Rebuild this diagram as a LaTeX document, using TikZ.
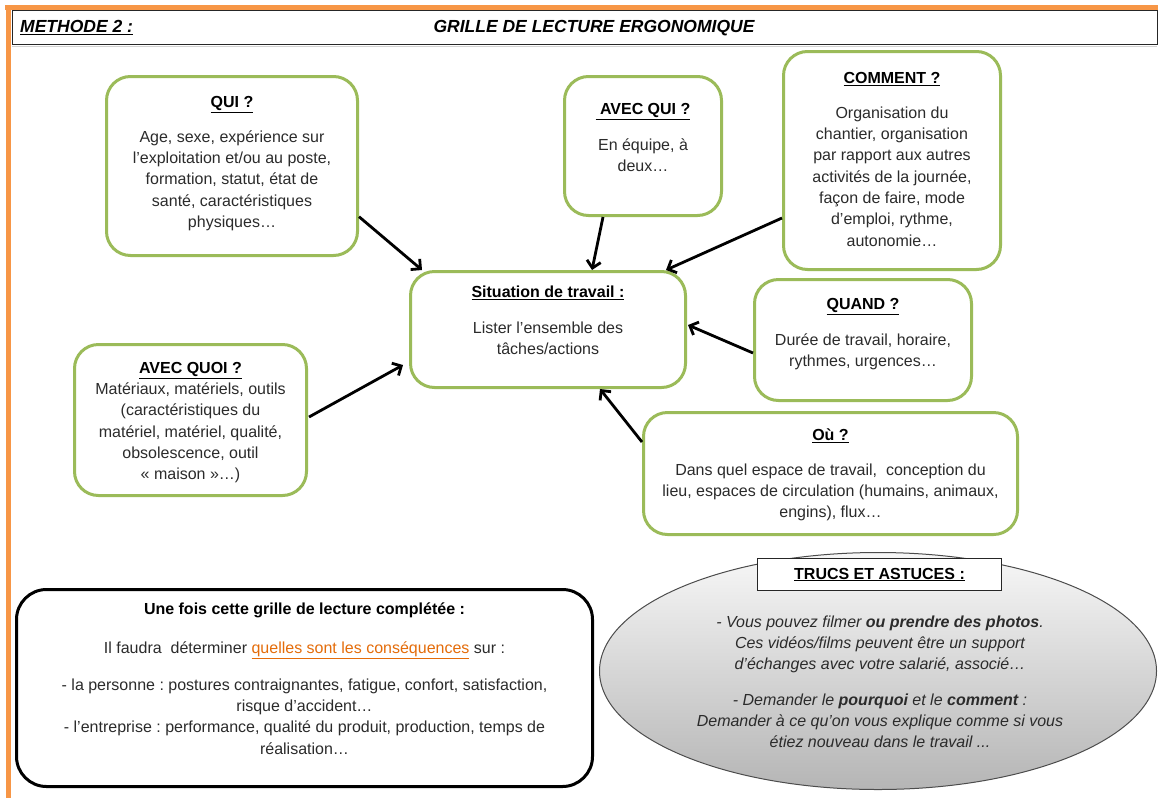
\documentclass[tikz,border=0pt]{standalone}
\usepackage{fontspec}
\setmainfont{Liberation Sans}
\usetikzlibrary{arrows.meta,shapes.geometric}
\definecolor{ogreen}{HTML}{9BBB59}
\definecolor{oorange}{HTML}{F79646}
\definecolor{dorange}{HTML}{E46C0A}
\definecolor{bodygray}{HTML}{2B2B2B}
\newcommand\boxtitle[1]{\textcolor{black}{\underline{\textbf{#1}}}}
\newcommand\firststrut{\rule{0pt}{13pt}}
\frenchspacing
\begin{document}
\begin{tikzpicture}[x=1pt,y=-1pt,
  gbox/.style={draw=ogreen, line width=3pt, rounded corners=24pt, fill=white, inner sep=0pt},
  kbox/.style={draw=black, line width=3pt, rounded corners=30pt, fill=white, inner sep=0pt},
  txt/.style={font=\fontsize{16}{21.3}\selectfont, align=center, inner sep=0pt, anchor=north, text=bodygray},
  hdr/.style={font=\fontsize{17.5}{20}\selectfont\bfseries\itshape, inner sep=0pt, anchor=base},
  arr/.style={draw=black, line width=2.8pt, -{Straight Barb[length=7pt,width=14pt]}}]
\useasboundingbox (0,0) rectangle (1158,798);
\fill[white] (0,0) rectangle (1158,798);

% header
\draw[gray!35, line width=1pt] (12,46.5) -- (1157,46.5);
\node[draw=black!85, line width=1.4pt, minimum width=1145.5pt, minimum height=34pt, inner sep=0pt, anchor=north west] (header) at (11.5,10) {};
\fill[oorange] (5,4.5) rectangle (1158,10);
\fill[oorange] (5.5,4.5) rectangle (11,798);
\node[hdr, anchor=base west] (methode) at (20,32.5) {\underline{METHODE 2 :}};
\node[hdr] (grille) at (594,32.5) {GRILLE DE LECTURE ERGONOMIQUE};

% boxes
\node[gbox, minimum width=251pt, minimum height=179pt] (qui) at (232,166) {};
\node[gbox, minimum width=157pt, minimum height=139pt] (avecqui) at (643,146) {};
\node[gbox, minimum width=217pt, minimum height=218pt] (comment) at (892,160.5) {};
\node[gbox, minimum width=275pt, minimum height=116pt] (sit) at (548,329.5) {};
\node[gbox, minimum width=217pt, minimum height=121pt] (quand) at (863,340) {};
\node[gbox, minimum width=232pt, minimum height=151pt] (quoi) at (190.5,420) {};
\node[gbox, minimum width=374pt, minimum height=122pt] (ou) at (830.5,473.5) {};
\node[kbox, minimum width=576pt, minimum height=197pt] (conseq) at (304.5,688) {};
\node[ellipse, draw=black!70, line width=1pt, top color=gray!6, bottom color=gray!58, minimum width=557pt, minimum height=237pt, inner sep=0pt] (tips) at (878,671) {};
\node[draw=black!85, line width=1pt, fill=white, minimum width=244pt, minimum height=32pt, inner sep=0pt, font=\fontsize{16}{20}\selectfont] (trucs) at (879.5,574.5) {\boxtitle{TRUCS ET ASTUCES :}};

% texts
\node[txt] (quitxt) at (232,94) {\firststrut\boxtitle{QUI ?}\\[13.7pt]
  Age, sexe, expérience sur\\ l’exploitation et/ou au poste,\\ formation, statut, état de\\ santé, caractéristiques\\ physiques…};
\node[txt] (avecquitxt) at (643,101) {\firststrut\boxtitle{\ AVEC QUI ?}\\[14.7pt]
  En équipe, à\\ deux…};
\node[txt] (commenttxt) at (892,70) {\firststrut\boxtitle{COMMENT ?}\\[13.7pt]
  Organisation du\\ chantier, organisation\\ par rapport aux autres\\ activités de la journée,\\ façon de faire, mode\\ d’emploi, rythme,\\ autonomie…};
\node[txt] (sittxt) at (548,284) {\firststrut\boxtitle{Situation de travail :}\\[14.7pt]
  Lister l’ensemble des\\ tâches/actions};
\node[txt] (quandtxt) at (863,296) {\firststrut\boxtitle{QUAND ?}\\[14.7pt]
  Durée de travail, horaire,\\ rythmes, urgences…};
\node[txt] (quoitxt) at (190.5,360) {\firststrut\boxtitle{AVEC QUOI ?}\\
  Matériaux, matériels, outils\\ (caractéristiques du\\ matériel, matériel, qualité,\\ obsolescence, outil\\ «~maison~»…)};
\node[txt] (outxt) at (830.5,427) {\firststrut\boxtitle{Où ?}\\[13.7pt]
  Dans quel espace de travail,\ \ conception du\\ lieu, espaces de circulation (humains, animaux,\\ engins), flux…};
\node[txt] (conseqtxt) at (304.5,601) {\firststrut\textcolor{black}{\textbf{Une fois cette grille de lecture complétée :}}\\[17.7pt]
  Il faudra\ \ déterminer \textcolor{dorange}{\underline{quelles sont les conséquences}} sur :\\[15.7pt]
  - la personne : postures contraignantes, fatigue, confort, satisfaction,\\ risque d’accident…\\
  - l’entreprise : performance, qualité du produit, production, temps de\\ réalisation…};
\node[txt, font=\fontsize{16}{21}\selectfont\itshape] (tipstxt) at (880,614) {\firststrut- Vous pouvez filmer \textbf{ou prendre des photos}.\\
  Ces vidéos/films peuvent être un support\\ d’échanges avec votre salarié, associé…\\[15pt]
  - Demander le \textbf{pourquoi} et le \textbf{comment} :\\
  Demander à ce qu’on vous explique comme si vous\\ étiez nouveau dans le travail ...};

% arrows
\draw[arr] ([yshift=-50.7pt]qui.east) -- ([xshift=13pt]sit.north west);
\draw[arr] ([xshift=-40pt]avecqui.south) -- ([xshift=44pt]sit.north);
\draw[arr] ([yshift=-57.5pt]comment.west) -- ([xshift=-21pt]sit.north east);
\draw[arr] ([yshift=-13pt]quand.west) -- ([xshift=1pt,yshift=4.5pt]sit.east);
\draw[arr] ([yshift=31.5pt]ou.west) -- ([xshift=52pt]sit.south);
\draw[arr] ([xshift=1pt,yshift=3pt]quoi.east) -- ([xshift=-6pt,yshift=-35.5pt]sit.west);
\end{tikzpicture}
\end{document}
